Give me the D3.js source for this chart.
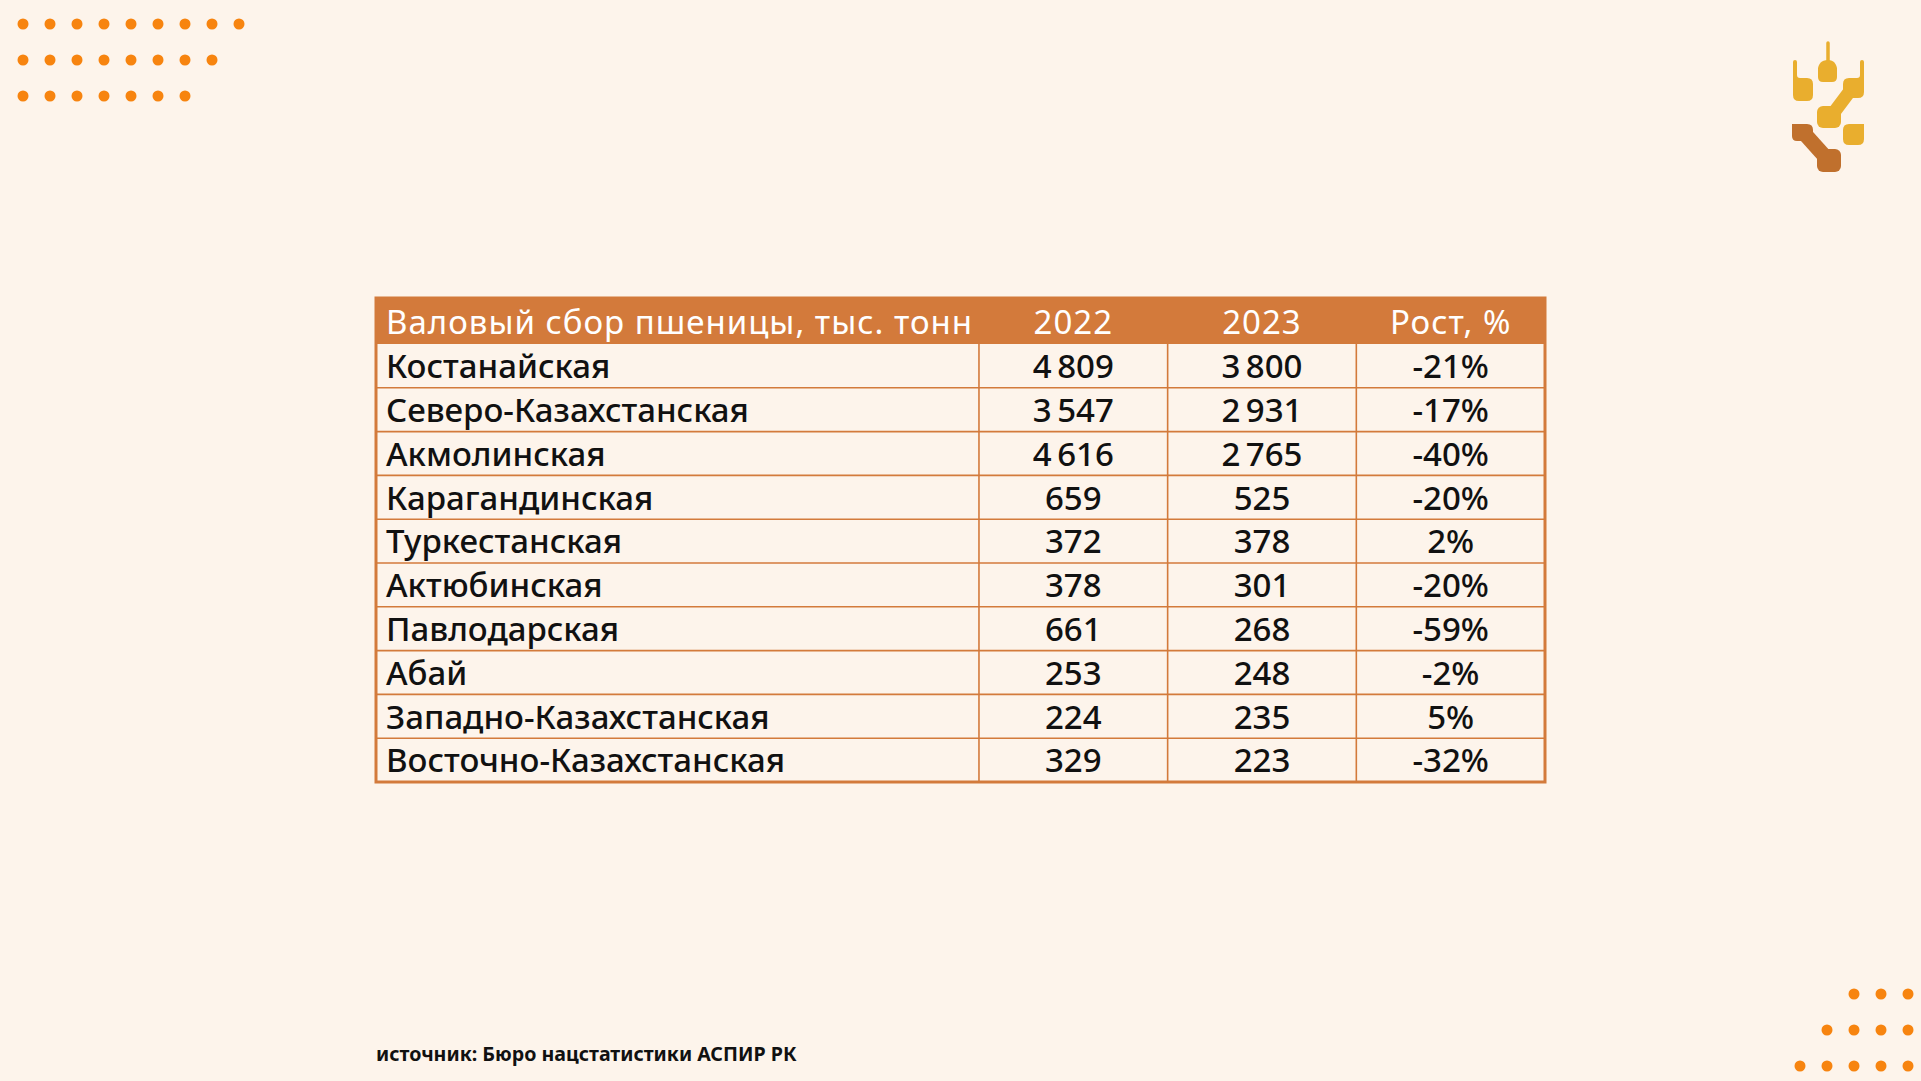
<!DOCTYPE html>
<html><head><meta charset="utf-8">
<script src="https://cdn.jsdelivr.net/npm/d3@7"></script>
<style>
html,body{margin:0;padding:0;background:#FDF4EB;}
svg{display:block;}
</style></head>
<body>
<script>
// ---- data ----
const headerLabels = ["Валовый сбор пшеницы, тыс. тонн", "2022", "2023", "Рост, %"];
const regions = ["Костанайская","Северо-Казахстанская","Акмолинская","Карагандинская","Туркестанская","Актюбинская","Павлодарская","Абай","Западно-Казахстанская","Восточно-Казахстанская"];
const values2022 = [4809, 3547, 4616, 659, 372, 378, 661, 253, 224, 329];
const values2023 = [3800, 2931, 2765, 525, 378, 301, 268, 248, 235, 223];
const growthPct = [-21, -17, -40, -20, 2, -20, -59, -2, 5, -32];
const sourceText = "источник: Бюро нацстатистики АСПИР РК";

// ---- layout ----
const W = 1921, H = 1081;
const orange = "#D37A3B", dotColor = "#F7840F", gold = "#E9AE2E", brown = "#C0702D";
const tableX0 = 376, tableX1 = 1545, tableY0 = 298, headerH = 46, tableY1 = 782;
const colEdgesFrac = [0, 0.5158, 0.6772, 0.8386, 1];
const fontFam = "'Noto Sans', 'Open Sans', sans-serif";
const fontSize = 33;

const svg = d3.select("body").append("svg").attr("width", W).attr("height", H);
svg.append("rect").attr("width", W).attr("height", H).attr("fill", "#FDF4EB");

// dots top-left
const dotsTL = [9, 8, 7];
dotsTL.forEach((n, r) => {
  svg.append("g").selectAll("circle").data(d3.range(n)).join("circle")
    .attr("cx", i => 23 + i * 27).attr("cy", 24 + r * 36).attr("r", 5.5).attr("fill", dotColor);
});
// dots bottom-right
const dotsBR = [3, 4, 5];
dotsBR.forEach((n, r) => {
  svg.append("g").selectAll("circle").data(d3.range(n)).join("circle")
    .attr("cx", i => 1908 - i * 27).attr("cy", 994 + r * 36).attr("r", 5.5).attr("fill", dotColor);
});

// logo
const logo = svg.append("g");
logo.append("line").attr("x1",1828).attr("y1",43).attr("x2",1828).attr("y2",64).attr("stroke",gold).attr("stroke-width",3.5).attr("stroke-linecap","round");
logo.append("path").attr("fill",gold).attr("d","M1828,60 C1834,60 1836,64 1837,68 L1837,77 Q1837,82 1832,82 L1823,82 Q1818,82 1818,77 L1818,68 C1819,64 1821,60 1828,60 Z");
logo.append("path").attr("fill",gold).attr("d","M1793,62 Q1793,60 1795,60 Q1797,60 1797,62 L1797,75 Q1797,78 1800,78 L1807,78 Q1813,78 1813,84 L1813,95 Q1813,101 1807,101 L1799,101 Q1793,101 1793,95 Z");
logo.append("path").attr("fill",gold).attr("d","M1864,62 Q1864,60 1862,60 Q1860,60 1860,62 L1860,75 Q1860,78 1857,78 L1849,78 Q1843,78 1843,84 L1843,92 Q1843,98 1849,98 L1858,98 Q1864,98 1864,92 Z");
logo.append("line").attr("x1",1850).attr("y1",91).attr("x2",1832).attr("y2",115).attr("stroke",gold).attr("stroke-width",13);
logo.append("rect").attr("x",1817).attr("y",106).attr("width",24).attr("height",22).attr("rx",6).attr("fill",gold);
logo.append("path").attr("fill",gold).attr("d","M1849,124 L1864,124 L1864,139 Q1864,145 1858,145 L1849,145 Q1843,145 1843,139 L1843,130 Q1843,124 1849,124 Z");
logo.append("path").attr("fill",brown).attr("d","M1792,124 L1807,124 Q1813,124 1813,130 L1813,135 Q1813,141 1807,141 L1797,141 Q1792,141 1792,136 Z");
logo.append("line").attr("x1",1803).attr("y1",132).attr("x2",1829).attr("y2",161).attr("stroke",brown).attr("stroke-width",15);
logo.append("rect").attr("x",1817).attr("y",149).attr("width",24).attr("height",23).attr("rx",6).attr("fill",brown);

// ---- table ----
const x = d3.scaleLinear().domain([0, 1]).range([tableX0, tableX1]);
const colX = colEdgesFrac.map(f => x(f));
const y = d3.scaleBand().domain(d3.range(regions.length)).range([tableY0 + headerH, tableY1]);

const locale = d3.formatLocale({decimal: ",", thousands: "\u2009", grouping: [3], currency: ["", ""]});
const fmtNum = locale.format(",d");
const fmtPct = v => (v < 0 ? "-" : "") + Math.abs(v) + "%";

const t = svg.append("g");
t.append("rect").attr("x", tableX0).attr("y", tableY0).attr("width", tableX1 - tableX0).attr("height", headerH).attr("fill", orange);

t.append("g").selectAll("line").data(d3.range(1, regions.length)).join("line")
  .attr("x1", tableX0).attr("x2", tableX1)
  .attr("y1", i => y(i)).attr("y2", i => y(i))
  .attr("stroke", orange).attr("stroke-width", 1.6);
t.append("g").selectAll("line").data([1, 2, 3]).join("line")
  .attr("x1", c => colX[c]).attr("x2", c => colX[c])
  .attr("y1", tableY0 + headerH).attr("y2", tableY1)
  .attr("stroke", orange).attr("stroke-width", 1.6);
t.append("rect").attr("x", tableX0).attr("y", tableY0).attr("width", tableX1 - tableX0).attr("height", tableY1 - tableY0)
  .attr("fill", "none").attr("stroke", orange).attr("stroke-width", 3);

t.append("g").selectAll("text").data(headerLabels).join("text")
  .attr("x", (d, i) => i === 0 ? colX[0] + 10 : (colX[i] + colX[i + 1]) / 2)
  .attr("y", tableY0 + headerH / 2)
  .attr("dy", "0.40em")
  .attr("text-anchor", (d, i) => i === 0 ? "start" : "middle")
  .attr("font-family", fontFam).attr("font-size", fontSize).attr("fill", "#fff")
  .attr("letter-spacing", "1px")
  .text(d => d);

const rows = regions.map((r, i) => [r, fmtNum(values2022[i]), fmtNum(values2023[i]), fmtPct(growthPct[i])]);
const rowG = t.append("g").selectAll("g").data(rows).join("g")
  .attr("transform", (d, i) => `translate(0,${y(i) + y.bandwidth() / 2})`);
rowG.selectAll("text").data(d => d).join("text")
  .attr("x", (d, i) => i === 0 ? colX[0] + 10 : (colX[i] + colX[i + 1]) / 2)
  .attr("dy", "0.37em")
  .attr("text-anchor", (d, i) => i === 0 ? "start" : "middle")
  .attr("font-family", fontFam).attr("font-size", fontSize).attr("font-weight", 500).attr("fill", "#111")
  .text(d => d);

svg.append("text").attr("x", 376).attr("y", 1061)
  .attr("font-family", fontFam).attr("font-size", 19.6).attr("font-weight", 700).attr("fill", "#111")
  .text(sourceText);
</script>
</body></html>
